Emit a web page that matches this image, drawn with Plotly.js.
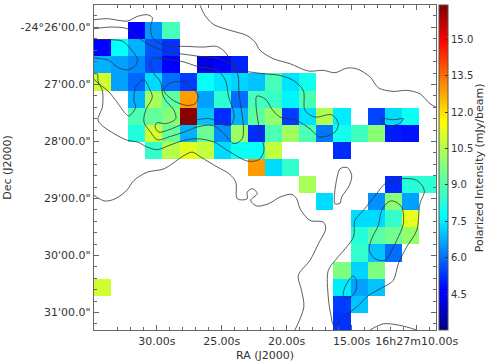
<!DOCTYPE html>
<html><head><meta charset="utf-8">
<script src="https://cdn.plot.ly/plotly-3.0.1.min.js"></script>
<style>html,body{margin:0;padding:0;background:#fff}</style></head>
<body><div id="c" style="width:491px;height:363px"></div>
<script>
const N=null;
const intensity=[
[N,N,N,N,N,N,N,N,N,N,N,N,N,N,N,N,N,N,N,N],
[N,N,4.6,6.5,8.8,N,N,N,N,N,N,N,N,N,N,N,N,N,N,N],
[4.6,7.8,6.8,5.7,5.3,N,N,N,N,N,N,N,N,N,N,N,N,N,N,N],
[6.8,6.6,6.3,5.6,4.7,N,4.2,4.5,5.1,N,N,N,N,N,N,N,N,N,N,N],
[10.9,6.6,5.9,7.3,6.0,5.4,7.8,7.4,7.2,7.0,8.8,7.4,8.0,N,N,N,N,N,N,N],
[N,N,6.8,10.3,9.2,12.9,6.6,8.4,6.0,8.8,8.6,7.6,8.9,N,N,N,N,N,N,N],
[N,N,8.9,9.3,9.8,16.3,7.0,5.2,6.8,9.2,10.0,5.4,7.4,10.4,7.5,N,5.5,7.3,7.9,N],
[N,N,8.2,10.9,9.3,6.8,9.4,6.4,10.1,5.2,8.9,10.2,8.9,6.1,8.0,8.7,9.9,5.0,4.9,N],
[N,N,N,8.5,10.5,11.2,10.7,7.3,7.9,7.8,10.7,N,N,N,5.2,N,N,N,N,N],
[N,N,N,N,N,N,N,N,N,12.9,7.3,8.5,N,N,N,N,N,N,N,N],
[N,N,N,N,N,N,N,N,N,N,N,N,10.3,N,N,N,N,5.2,8.3,8.4],
[N,N,N,N,N,N,N,N,N,N,N,N,N,7.3,N,N,6.4,9.9,6.6,N],
[N,N,N,N,N,N,N,N,N,N,N,N,N,N,N,7.3,7.3,8.5,11.2,N],
[N,N,N,N,N,N,N,N,N,N,N,N,N,N,N,8.3,9.1,9.5,10.0,N],
[N,N,N,N,N,N,N,N,N,N,N,N,N,N,N,8.5,7.0,6.0,N,N],
[N,N,N,N,N,N,N,N,N,N,N,N,N,N,9.7,7.2,9.7,N,N,N],
[10.9,N,N,N,N,N,N,N,N,N,N,N,N,N,7.5,6.6,7.0,N,N,N],
[N,N,N,N,N,N,N,N,N,N,N,N,N,N,5.4,7.0,N,N,N,N],
[N,N,N,N,N,N,N,N,N,N,N,N,N,N,5.3,N,N,N,N,N]];

const raTickVals=[3.67,7.47,11.27,15.07,18.87];
const raTickText=['30.00s','25.00s','20.00s','15.00s','16h27m10.00s'];
const decTickVals=[1.31,4.64,7.98,11.31,14.64,17.98];
const decTickText=['-24°26\'00.0"','27\'00.0"','28\'00.0"','29\'00.0"','30\'00.0"','31\'00.0"'];
const cbTicks=[4.5,6,7.5,9,10.5,12,13.5,15];
const jet=[[0,'#00007f'],[0.11,'#0000ff'],[0.125,'#0000ff'],[0.35,'#00ffff'],[0.5,'#7fff7f'],[0.64,'#ffff00'],[0.89,'#ff0000'],[1,'#7f0000']];

const contours=[
{x:[6.2,6.49,6.98,7.95,8.93,9.42,9.71,10.49,11.46,12.53,13.41,14.09,14.78,15.36,16.14,16.63,17.5,18.29,19.06,19.65,20],
 y:[0.02,0.61,1.13,1.48,1.78,2.17,2.65,3.14,3.43,3.86,3.82,3.96,3.69,3.73,4.2,4.84,5.05,4.99,5.19,5.77,5.97]},
{x:[16.86,17.5,18.09,17.89,17.41,17.02,16.86],y:[6.65,6.71,6.65,6.9,7.06,6.98,6.65]},
{x:[14.22,14.39,14.82,15.07,14.93,14.48,14.39,14.09,14.07,14.22],y:[10.06,9.57,9.51,9.96,10.55,11.23,11.58,11.62,11.03,10.06]},
{x:[0,0.64,1.23,1.91,2.34,3.12,4.09,5.26,5.75,6.24,7.21,7.89,8.29,8.38,8.96,8.96,9.26,9.55,9.16,9.51,10.2,10.88,11.56,11.85,12.05,12.63,13.41,13.55,13.12,12.63,11.95,12.14,12.27,11.75],
 y:[11.13,11.46,11.33,10.84,10.25,9.77,9.58,8.8,8.6,8.89,9.47,9.86,10.35,11.33,11.33,10.94,10.74,11.03,11.42,11.75,11.62,11.23,11.07,11.33,11.91,12.59,12.69,13.08,13.96,14.93,15.81,16.69,17.66,19]},
{x:[14.03,13.84,13.7,13.7,14.19,15.17,15.26,15.75,16.53,17.02,17.89,18.87,19.32,19.06,18.87,18.28,17.8,17.5,16.92,16.05,15.36,14.58,14.03],
 y:[18.73,18.05,17.08,15.52,14.83,13.57,12.59,12.01,11.03,10.45,10.16,10.25,10.84,11.62,13.18,14.15,15.13,16.1,16.49,16.98,17.66,18.25,18.73]},
{x:[17.5,17.99,18.09,17.7,17.41,17.02,16.43,16.1,16.24,16.63,16.82,17.21,17.5],y:[11.46,11.81,12.79,13.76,14.35,14.93,14.83,14.35,13.66,12.88,12.01,11.52,11.46]},
{x:[15.17,15.36,15.26,14.87,14.58,14.68,14.97,15.17],y:[15.85,16.2,16.8,17.17,16.98,16.49,16.0,15.85]},
{x:[16.14,16.92,17.89,18.87],y:[19,18.64,18.73,19]},
// outermost ridge contour
{x:[0,0.78,1.95,2.53,3.12,3.41,3.31,3.41,4.09,5.42,6.39,7.17,7.66,8.05,8.44,9.16,9.94,10.88,11.66,12.24,12.34,12.92,13.9,14.29,14.09,13.22,12.63,11.85,10.88,10.39,10.1,9.71,9.51,9.47,9.65,9.94,9.65,8.97,7.8,7.02,6.04,5.26,4.39,3.7,3.12,2.53,1.95,1.17,0.58,0.23,0.49,0.49,0.25,0.19,0],
 y:[0.86,0.8,0.94,0.67,0.57,0.74,1.29,1.88,2.36,2.42,2.46,2.42,2.75,3.34,3.79,3.92,4.02,4.12,4.41,5.0,6.16,6.55,6.42,6.94,7.43,7.72,7.24,6.75,6.55,6.07,5.58,5.34,5.34,5.77,7.14,8.5,9.04,9.12,8.5,8.01,7.82,7.91,8.21,8.46,8.31,8.01,7.91,7.52,7.13,6.74,5.96,4.99,4.5,4.02,4.02]},
// second ridge contour
{x:[0,0.97,1.95,2.53,3.31,4.29,5.26,6.14,7.31,8.09,8.42,8.48,8.68,8.73,8.67,8.19,7.6,6.92,6.04,5.26,4.48,3.7,3.31,2.92,3.02,3.41,3.22,2.92,2.44,2.34,2.44,2.05,1.85,1.27,0.88,0.29,0],
 y:[1.39,1.29,1.39,1.88,2.36,2.75,2.88,3.0,3.14,3.53,4.11,5.19,6.55,6.94,7.82,8.11,7.52,7.04,7.13,7.43,7.68,7.88,7.43,6.84,6.16,5.38,4.85,4.37,4.8,5.58,5.97,6.49,6.35,5.58,5.09,4.6,4.35]},
// inner ridge contour
{x:[3.27,3.51,4.09,5.26,6.04,7.2,7.69,7.88,8.15,8.19,7.99,7.5,6.82,6.04,5.26,4.39,3.8,3.57,3.7,4.19,4.78,4.68,4.19,4.0,3.9,3.51,3.27],
 y:[3.44,3.1,3.14,3.33,3.59,3.82,4.41,5.38,6.16,6.55,7.04,6.98,6.65,6.71,6.94,7.29,7.43,7.13,6.88,6.94,6.65,6.16,5.58,5.19,4.51,4.02,3.44]},
{x:[0,0.78,1.66,2.14,2.53,2.44,1.95,1.36,0.88,0.39,0],y:[2.01,2.03,2.11,2.56,3.14,3.53,3.79,3.63,3.24,3.14,3.1]},
{x:[4.09,4.44,5.22,5.81,6.1,5.91,5.42,4.64,4.09],y:[4.99,4.56,4.51,4.9,5.38,5.77,5.87,5.58,4.99]}
];

const traces=[{type:'heatmap',z:intensity,x0:0.5,dx:1,y0:0.5,dy:1,colorscale:jet,zmin:3.02,zmax:16.42,hoverongaps:false,
 colorbar:{x:1.0088,xanchor:'left',y:0,yanchor:'bottom',len:1,lenmode:'fraction',thickness:9,thicknessmode:'pixels',outlinewidth:1,outlinecolor:'#555',
 tickmode:'array',tickvals:cbTicks,ticktext:cbTicks.map(v=>v.toFixed(1)),ticks:'inside',ticklen:3,tickcolor:'#333',tickfont:{family:'DejaVu Sans',size:10,color:'#333'},xpad:0,ypad:0}}];
contours.forEach(c=>traces.push({type:'scatter',mode:'lines',x:c.x,y:c.y,line:{color:'#333',width:0.8,shape:'spline',smoothing:0.9},showlegend:false,hoverinfo:'skip'}));

const minorX=[];for(let v=raTickVals[0]-3*0.76;v<20;v+=0.76){minorX.push(+v.toFixed(2));}
const minorY=[];for(let v=decTickVals[0]-0.667*1;v<19;v+=0.6667){minorY.push(+v.toFixed(2));}
const layout={width:491,height:363,margin:{l:94,r:55,t:4.6,b:33},paper_bgcolor:'#fff',plot_bgcolor:'#fff',showlegend:false,
 font:{family:'DejaVu Sans',size:11,color:'#333'},
 xaxis:{range:[0,20],tickmode:'array',tickvals:raTickVals,ticktext:raTickText,ticks:'inside',ticklen:5,tickcolor:'#666',showgrid:false,zeroline:false,showline:true,linecolor:'#666',linewidth:1.3,mirror:'ticks',
  minor:{tickmode:'array',tickvals:minorX,ticks:'inside',ticklen:3,tickcolor:'#666',showgrid:false},tickfont:{size:11,color:'#333'},tickangle:0,title:{text:'RA (J2000)',font:{size:11,color:'#333'},standoff:4}},
 yaxis:{range:[19,0],tickmode:'array',tickvals:decTickVals,ticktext:decTickText,ticks:'inside',ticklen:5,tickcolor:'#666',showgrid:false,zeroline:false,showline:true,linecolor:'#666',linewidth:1.3,mirror:'ticks',
  minor:{tickmode:'array',tickvals:minorY,ticks:'inside',ticklen:3,tickcolor:'#666',showgrid:false},tickfont:{size:11,color:'#333'},title:{text:'Dec (J2000)',font:{size:11,color:'#333'},standoff:6}},
 annotations:[{text:'Polarized Intensity (mJy/beam)',xref:'paper',yref:'paper',x:1.128,y:0.5,xanchor:'center',yanchor:'middle',textangle:-90,showarrow:false,font:{family:'DejaVu Sans',size:11,color:'#333'}}]};
Plotly.newPlot('c',traces,layout,{displayModeBar:false,staticPlot:true});
</script></body></html>
